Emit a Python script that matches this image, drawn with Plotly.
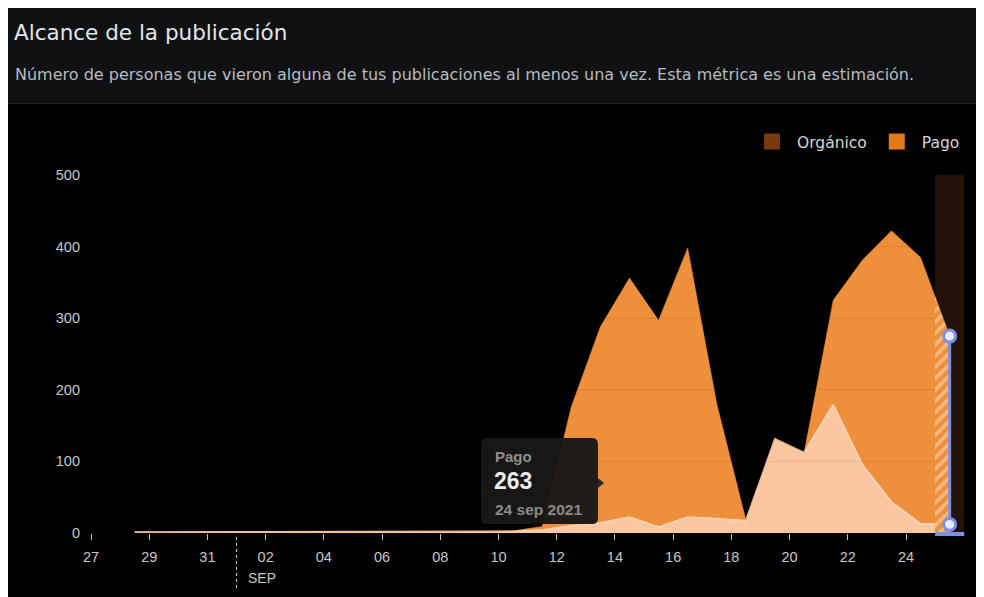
import pandas as pd
import plotly.graph_objects as go

# ---------------- data ----------------
dates = pd.date_range("2021-08-28", "2021-09-25", freq="D").strftime("%Y-%m-%d").tolist()
organico = [1, 1, 1, 1, 1, 1, 1, 2, 1, 2, 1, 1, 2, 2,
            4, 10, 14, 22, 8, 22, 20, 17, 131, 112, 179, 95, 43, 13, 12]
pago = [0, 0, 0, 0, 0, 0, 1, 0, 1, 0, 0, 1, 0, 1,
        5, 166, 274, 334, 289, 376, 160, 1, 0, 0, 146, 286, 379, 372, 263]
tick_dates = pd.date_range("2021-08-27", "2021-09-24", freq="2D")
y_ticks = [0, 100, 200, 300, 400, 500]
tooltip_series = "Pago"
tooltip_value = "263"
tooltip_date = "24 sep 2021"
title = "Alcance de la publicación"
subtitle = "Número de personas que vieron alguna de tus publicaciones al menos una vez. Esta métrica es una estimación."

# ---------------- layout helpers ----------------
OFF = 8                      # page body margin
W, H = 984 - OFF, 597 - OFF  # figure size
# plot area in screenshot pixels
SL, SR, ST, SB = 85, 965, 175, 533
L, R, T, B = SL - OFF, SR - OFF, ST - OFF, SB - OFF


def px(x):  # screenshot x -> paper
    return (x - SL) / (SR - SL)


def py(y):  # screenshot y -> paper
    return (SB - y) / (SB - ST)


x_dates = pd.to_datetime(dates) + pd.Timedelta(hours=12)
total = [o + p for o, p in zip(organico, pago)]

day_px = (906 - 91) / 28.0
x_start = pd.Timestamp("2021-08-27") - pd.Timedelta(days=(91 - SL) / day_px)
x_end = pd.Timestamp("2021-08-27") + pd.Timedelta(days=(SR - 91) / day_px)
partial_start = pd.Timestamp("2021-09-25 00:00")
band_end = pd.Timestamp("2021-09-26 00:00")
dom2 = (partial_start - x_start) / (x_end - x_start)

ORANGE = "#ee8f3b"
PEACH = "#f9c6a0"
BLUE = "#7d8fe6"
FONT = "Liberation Sans, Arial"
WFONT = "DejaVu Sans, Liberation Sans"

fig = go.Figure()

fig.add_trace(go.Scatter(
    x=x_dates, y=organico, stackgroup="one", mode="lines",
    line=dict(color="#f6d2b4", width=2), fillcolor=PEACH,
    name="Orgánico", showlegend=False, hoverinfo="skip"))
fig.add_trace(go.Scatter(
    x=x_dates, y=pago, stackgroup="one", mode="lines",
    line=dict(color=ORANGE, width=0.5), fillcolor=ORANGE,
    name="Pago", showlegend=False, hoverinfo="skip"))

# hatched (incomplete) last segment, clipped to the partial day via its own x axis
fig.add_trace(go.Scatter(
    x=x_dates[-2:], y=total[-2:], xaxis="x2", yaxis="y", mode="lines",
    fill="tozeroy", line=dict(width=0, color=ORANGE),
    fillpattern=dict(shape="/", fgcolor="#fde2cc", bgcolor=ORANGE, size=8, solidity=0.45),
    showlegend=False, hoverinfo="skip"))

# hover indicator at the last point
fig.add_trace(go.Scatter(
    x=[x_dates[-1], x_dates[-1]], y=[organico[-1], total[-1]], xaxis="x2", yaxis="y",
    mode="lines+markers",
    line=dict(color=BLUE, width=3),
    marker=dict(size=12, color="#e8ebff", line=dict(color=BLUE, width=3)),
    showlegend=False, hoverinfo="skip", cliponaxis=False))

# legend entries
fig.add_trace(go.Scatter(x=[None], y=[None], mode="markers", name="Orgánico",
                         marker=dict(symbol="square", size=16, color="#7a3a10")))
fig.add_trace(go.Scatter(x=[None], y=[None], mode="markers", name="Pago",
                         marker=dict(symbol="square", size=16, color="#e27a17")))

shapes = []
# header background
shapes.append(dict(type="rect", xref="paper", yref="paper", x0=px(OFF), x1=px(984), y0=py(103), y1=py(OFF),
                   fillcolor="#101113", line=dict(width=0), layer="below"))
shapes.append(dict(type="line", xref="paper", yref="paper", x0=px(OFF), x1=px(984), y0=py(103.5), y1=py(103.5),
                   line=dict(color="#242528", width=1)))
# dark band for current day
shapes.append(dict(type="rect", xref="x", yref="y", x0=partial_start, x1=band_end, y0=0, y1=500,
                   fillcolor="#22120a", line=dict(width=0), layer="below"))
# faint gridlines over the areas
for v in y_ticks[1:-1]:
    shapes.append(dict(type="line", xref="paper", yref="y", x0=0, x1=px(935), y0=v, y1=v,
                       line=dict(color="rgba(0,0,0,0.08)", width=1), layer="above"))
# base bar of the hover indicator
shapes.append(dict(type="line", xref="x", yref="paper", x0=partial_start, x1=band_end, y0=py(534), y1=py(534),
                   line=dict(color=BLUE, width=4)))
# month separator
shapes.append(dict(type="line", xref="x", yref="paper", x0=pd.Timestamp("2021-09-01"), x1=pd.Timestamp("2021-09-01"),
                   y0=py(537), y1=py(591), line=dict(color="#d0d0d0", width=1, dash="dot")))

# tooltip box (rounded)
bx0, bx1, by0, by1, rr = 481, 598, 438, 524, 6


def P(x, y):
    return f"{px(x)},{py(y)}"


path = (f"M {P(bx0 + rr, by0)} L {P(bx1 - rr, by0)} Q {P(bx1, by0)} {P(bx1, by0 + rr)} "
        f"L {P(bx1, by1 - rr)} Q {P(bx1, by1)} {P(bx1 - rr, by1)} L {P(bx0 + rr, by1)} "
        f"Q {P(bx0, by1)} {P(bx0, by1 - rr)} L {P(bx0, by0 + rr)} Q {P(bx0, by0)} {P(bx0 + rr, by0)} Z")
shapes.append(dict(type="path", xref="paper", yref="paper", path=path,
                   fillcolor="rgba(26,24,23,0.97)", line=dict(width=0)))
shapes.append(dict(type="path", xref="paper", yref="paper",
                   path=f"M {P(598, 478)} L {P(604, 483)} L {P(598, 488)} Z",
                   fillcolor="#2a2726", line=dict(width=0)))

annotations = [
    dict(text=title, xref="paper", yref="paper", x=px(12), y=py(32), xanchor="left", yanchor="middle",
         showarrow=False, font=dict(family=WFONT, size=21.5, color="#e4e6eb")),
    dict(text=subtitle, xref="paper", yref="paper", x=px(13), y=py(75), xanchor="left", yanchor="middle",
         showarrow=False, font=dict(family=WFONT, size=16, color="#b8bbbf")),
    dict(text="SEP", xref="x", yref="paper", x=pd.Timestamp("2021-09-01"), xshift=9, y=py(578),
         xanchor="left", yanchor="middle", showarrow=False,
         font=dict(family=FONT, size=14, color="#c8c8c8")),
    dict(text=f"<b>{tooltip_series}</b>", xref="paper", yref="paper", x=px(493), y=py(456), xanchor="left",
         yanchor="middle", showarrow=False, font=dict(family=FONT, size=15, color="#8e8e8e")),
    dict(text=f"<b>{tooltip_value}</b>", xref="paper", yref="paper", x=px(492), y=py(481), xanchor="left",
         yanchor="middle", showarrow=False, font=dict(family=FONT, size=23, color="#ececec")),
    dict(text=f"<b>{tooltip_date}</b>", xref="paper", yref="paper", x=px(493), y=py(509), xanchor="left",
         yanchor="middle", showarrow=False, font=dict(family=FONT, size=15.5, color="#8a8a8a")),
]

fig.update_layout(
    width=W, height=H,
    margin=dict(l=L, r=W - R, t=T, b=H - B, pad=0),
    paper_bgcolor="#000000", plot_bgcolor="rgba(0,0,0,0)",
    font=dict(family=FONT, color="#c8c8c8", size=14),
    xaxis=dict(type="date", range=[x_start, x_end], tickvals=tick_dates,
               tickformat="%d", showgrid=False, zeroline=False, showline=False,
               ticks="outside", ticklen=6, tickcolor="#bdbdbd", tickwidth=1,
               ticklabelstandoff=5, tickfont=dict(size=14.5, color="#c8c8c8"), fixedrange=True),
    xaxis2=dict(type="date", domain=[dom2, 1], range=[partial_start, x_end], anchor="y",
                visible=False, showgrid=False, zeroline=False),
    yaxis=dict(range=[0, 500], tickvals=y_ticks, showgrid=False, zeroline=False, showline=False,
               ticks="", tickfont=dict(size=14.5, color="#c8c8c8"), ticklabelstandoff=4),
    legend=dict(orientation="h", x=1, xanchor="right", y=py(142), yanchor="middle",
                traceorder="normal", itemwidth=40,
                font=dict(family=WFONT, size=15.5, color="#d6d6d6"), bgcolor="rgba(0,0,0,0)"),
    shapes=shapes, annotations=annotations, showlegend=True,
)

fig.write_html("out.html")
